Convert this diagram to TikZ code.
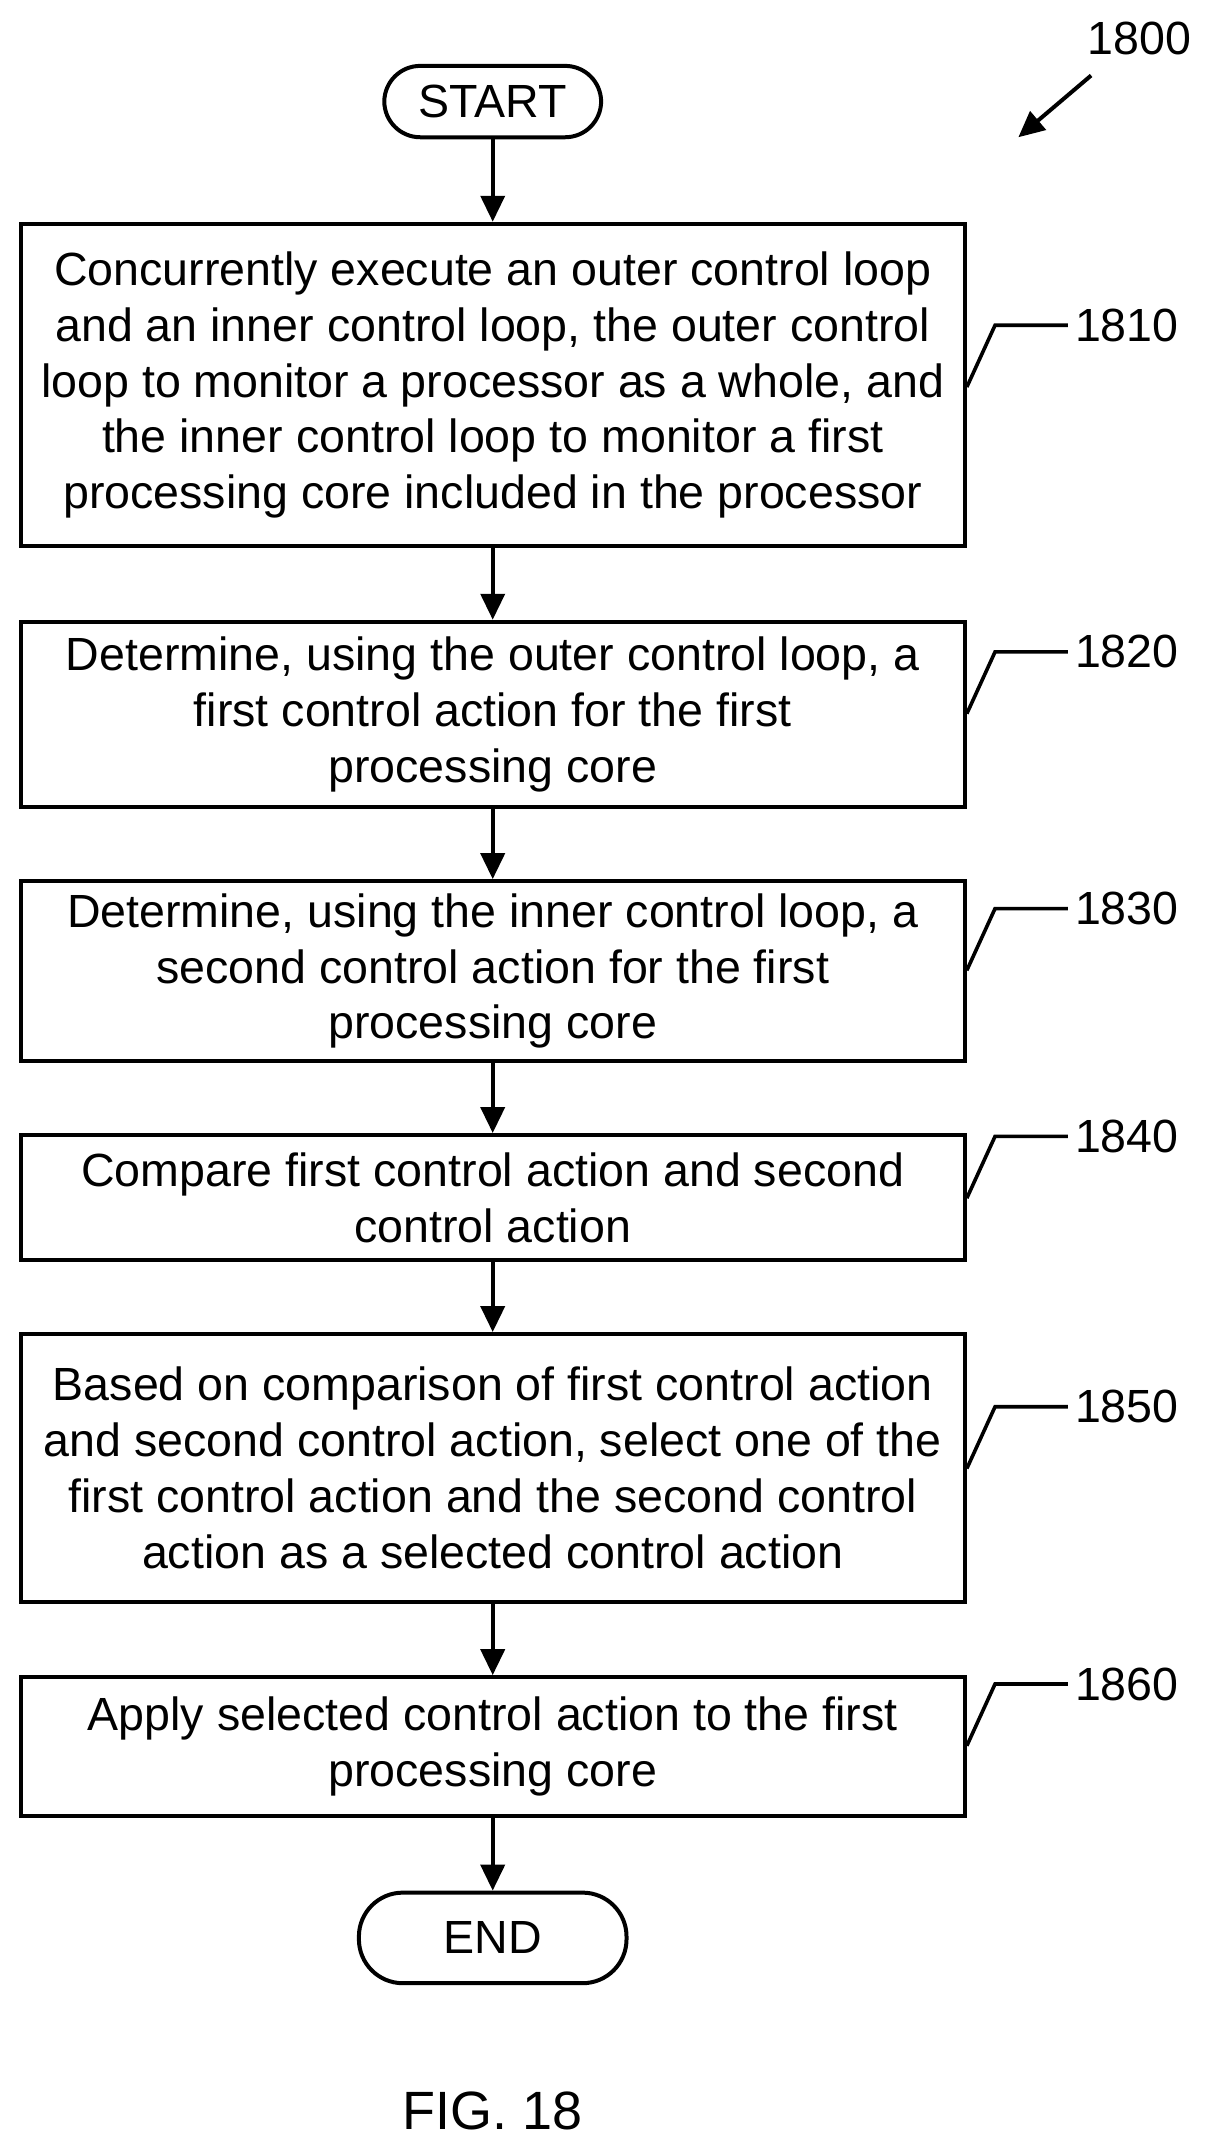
\documentclass[tikz,border=0pt]{standalone}
\usepackage{fontspec}
\setmainfont{Liberation Sans}
\usetikzlibrary{arrows.meta}
\begin{document}
\begin{tikzpicture}[x=0.687pt,y=-0.687pt,
  every node/.style={font=\fontsize{23.3}{28}\selectfont},
  box/.style={draw,line width=2pt,minimum width=688*0.687pt,align=center,inner sep=0pt},
  term/.style={draw,line width=2pt,rounded corners=18pt,align=center},
  arr/.style={line width=2pt,-{Triangle[length=13pt,width=12pt]}},
  lead/.style={line width=1.8pt}]
\useasboundingbox (0,0) rectangle (880,1568);
\node[term,minimum width=158*0.687pt,minimum height=52*0.687pt] (s) at (359,74) {START};
\node[box,minimum height=235*0.687pt] (b1) at (359,280.5) {Concurrently execute an outer control loop\\and an inner control loop, the outer control\\loop to monitor a processor as a whole, and\\the inner control loop to monitor a first\\processing core included in the processor};
\node[box,minimum height=135*0.687pt] (b2) at (359,520.5) {Determine, using the outer control loop, a\\first control action for the first\\processing core};
\node[box,minimum height=131*0.687pt] (b3) at (359,707.5) {Determine, using the inner control loop, a\\second control action for the first\\processing core};
\node[box,minimum height=91*0.687pt] (b4) at (359,872.5) {Compare first control action and second\\control action};
\node[box,minimum height=195*0.687pt] (b5) at (359,1069.5) {Based on comparison of first control action\\and second control action, select one of the\\first control action and the second control\\action as a selected control action};
\node[box,minimum height=101*0.687pt] (b6) at (359,1272.5) {Apply selected control action to the first\\processing core};
\node[term,minimum width=195*0.687pt,minimum height=66*0.687pt,rounded corners=22pt] (e) at (359,1412) {END};
\node[font=\fontsize{27}{30}\selectfont] (fig) at (359,1538) {FIG. 18};
\draw[arr] (s) -- (b1);
\draw[arr] (b1) -- (b2);
\draw[arr] (b2) -- (b3);
\draw[arr] (b3) -- (b4);
\draw[arr] (b4) -- (b5);
\draw[arr] (b5) -- (b6);
\draw[arr] (b6) -- (e);
\node (n0) at (830,28) {1800};
\coordinate (a0) at (795,55);
\coordinate (a1) at (742,100);
\draw[arr] (a0) -- (a1);
\foreach \n/\y/\b in {1810/237/b1,1820/475/b2,1830/662/b3,1840/828/b4,1850/1025/b5,1860/1227/b6}{
  \node (l\n) at (821,\y) {\n};
  \coordinate (p\n) at (\b.east |- 0,\y+45);
  \coordinate (q\n) at (725,\y);
  \coordinate (r\n) at (778,\y);
  \draw[lead] (p\n) -- (q\n) -- (r\n);
}
\end{tikzpicture}
\end{document}
